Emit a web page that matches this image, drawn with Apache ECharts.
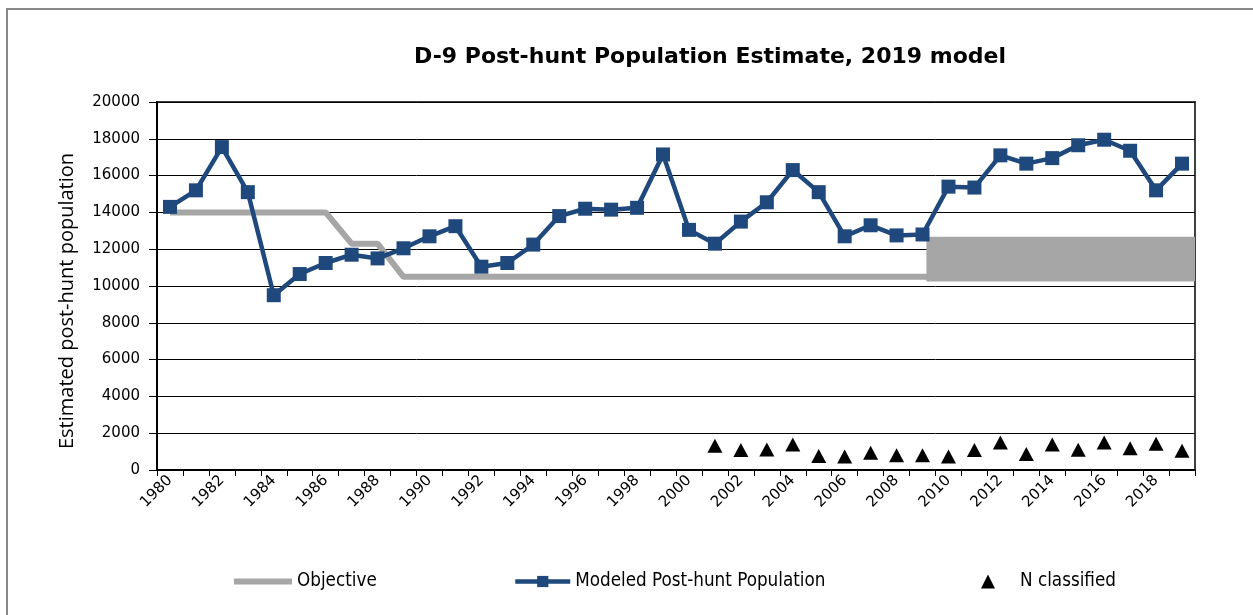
<!DOCTYPE html>
<html>
<head>
<meta charset="utf-8">
<script src="https://cdn.jsdelivr.net/npm/echarts@6/dist/echarts.min.js"></script>
<style>
  html, body { margin: 0; padding: 0; background: #fff; }
  #chart { width: 1253px; height: 615px; }
</style>
</head>
<body>
<div id="chart"></div>
<script>
// years on the category axis
const years = ['1980','1981','1982','1983','1984','1985','1986','1987','1988','1989',
  '1990','1991','1992','1993','1994','1995','1996','1997','1998','1999',
  '2000','2001','2002','2003','2004','2005','2006','2007','2008','2009',
  '2010','2011','2012','2013','2014','2015','2016','2017','2018','2019'];

// objective line (null once the objective becomes a range)
const objective = [14000,14000,14000,14000,14000,14000,14000,12300,12300,10500,
  10500,10500,10500,10500,10500,10500,10500,10500,10500,10500,
  10500,10500,10500,10500,10500,10500,10500,10500,10500,10500,
  10500,null,null,null,null,null,null,null,null,null];

// objective range drawn as a band from 2009 onward
const bandYears = [2009.15, 2019.5];
const bandLow = 10250;
const bandHigh = 12680;

const modeled = [14300,15200,17550,15100,9500,10650,11250,11700,11500,12050,
  12700,13250,11050,11250,12250,13800,14200,14150,14250,17150,
  13050,12300,13500,14550,16300,15100,12700,13300,12750,12800,
  15400,15350,17100,16650,16950,17650,17950,17350,15200,16650];

const nClassified = ['-','-','-','-','-','-','-','-','-','-',
  '-','-','-','-','-','-','-','-','-','-',
  '-',1320,1090,1120,1380,760,740,940,800,800,
  730,1090,1500,870,1380,1100,1500,1180,1430,1050];

const yTicks = { min: 0, max: 20000, interval: 2000 };

const blue = '#1F497D';
const gray = '#A6A6A6';
const legendFont = { fontFamily: 'DejaVu Sans Condensed', fontSize: 18.7, color: '#000' };

let chart = echarts.init(document.getElementById('chart'), null, { renderer: 'canvas' });

let option = {
  animation: false,
  backgroundColor: '#fff',
  title: {
    text: 'D-9 Post-hunt Population Estimate, 2019 model',
    left: 414,
    top: 46,
    padding: 0,
    textStyle: { fontFamily: 'DejaVu Sans', fontWeight: 'bold', fontSize: 22, color: '#000' }
  },
  graphic: [
    {
      type: 'rect',
      silent: true,
      shape: { x: 7, y: 9, width: 1400, height: 800 },
      style: { fill: 'none', stroke: '#888', lineWidth: 2 }
    },
    {
      type: 'text',
      silent: true,
      x: 67, y: 301,
      rotation: Math.PI / 2,
      style: {
        text: 'Estimated post-hunt population',
        fontFamily: 'Open Sans', fontSize: 20, fill: '#000',
        align: 'center', verticalAlign: 'middle'
      }
    }
  ],
  grid: {
    left: 157, right: 58, top: 102, bottom: 145,
    show: true, borderColor: '#404040', borderWidth: 2
  },
  legend: [
    {
      data: [{ name: 'Objective', icon: 'rect' }], left: 234, top: 572, padding: 0,
      itemWidth: 58, itemHeight: 6, textStyle: legendFont
    },
    {
      data: ['Modeled Post-hunt Population'], left: 513, top: 572, padding: 0,
      itemWidth: 55, itemHeight: 14, textStyle: legendFont,
      lineStyle: { width: 4.5 }
    },
    {
      data: ['N classified'], left: 981, top: 572, padding: 0,
      itemWidth: 14, itemHeight: 14,
      textStyle: Object.assign({ padding: [0, 0, 0, 20] }, legendFont)
    }
  ],
  xAxis: [
    {
      type: 'category',
      data: years,
      boundaryGap: true,
      axisLine: { lineStyle: { color: '#000', width: 2 } },
      axisTick: { show: true, interval: 0, length: 6, lineStyle: { color: '#000' } },
      axisLabel: {
        interval: 1, rotate: 45, margin: 8,
        fontFamily: 'DejaVu Sans', fontSize: 15, color: '#000'
      },
      splitLine: { show: false }
    },
    {
      type: 'value',
      min: 1979.5, max: 2019.5,
      show: false
    }
  ],
  yAxis: {
    type: 'value',
    min: yTicks.min, max: yTicks.max, interval: yTicks.interval,
    axisLine: { show: true, lineStyle: { color: '#000', width: 2 } },
    axisTick: { show: true, length: 8, lineStyle: { color: '#000' } },
    axisLabel: {
      margin: 17, fontFamily: 'DejaVu Sans', fontSize: 15, color: '#000',
      formatter: v => String(v)
    },
    splitLine: { show: true, lineStyle: { color: '#000', width: 1 } }
  },
  series: [
    {
      name: 'Objective',
      type: 'line',
      data: objective,
      symbol: 'none',
      z: 2,
      itemStyle: { color: gray },
      lineStyle: { color: gray, width: 6 }
    },
    {
      name: 'objectiveRange',
      type: 'line',
      xAxisIndex: 1,
      data: bandYears.map(y => [y, bandLow]),
      symbol: 'none',
      z: 3,
      silent: true,
      lineStyle: { width: 0, opacity: 0 },
      markArea: {
        silent: true,
        itemStyle: { color: gray, opacity: 1 },
        data: [[
          { coord: [bandYears[0], bandHigh] },
          { coord: [bandYears[1], bandLow] }
        ]]
      }
    },
    {
      name: 'Modeled Post-hunt Population',
      type: 'line',
      data: modeled,
      symbol: 'rect',
      symbolSize: 14,
      z: 4,
      itemStyle: { color: blue },
      lineStyle: { color: blue, width: 4.5 }
    },
    {
      name: 'N classified',
      type: 'scatter',
      data: nClassified,
      symbol: 'triangle',
      symbolSize: [15, 14],
      z: 4,
      itemStyle: { color: '#000', opacity: 1 }
    }
  ]
};

chart.setOption(option);
</script>
</body>
</html>
